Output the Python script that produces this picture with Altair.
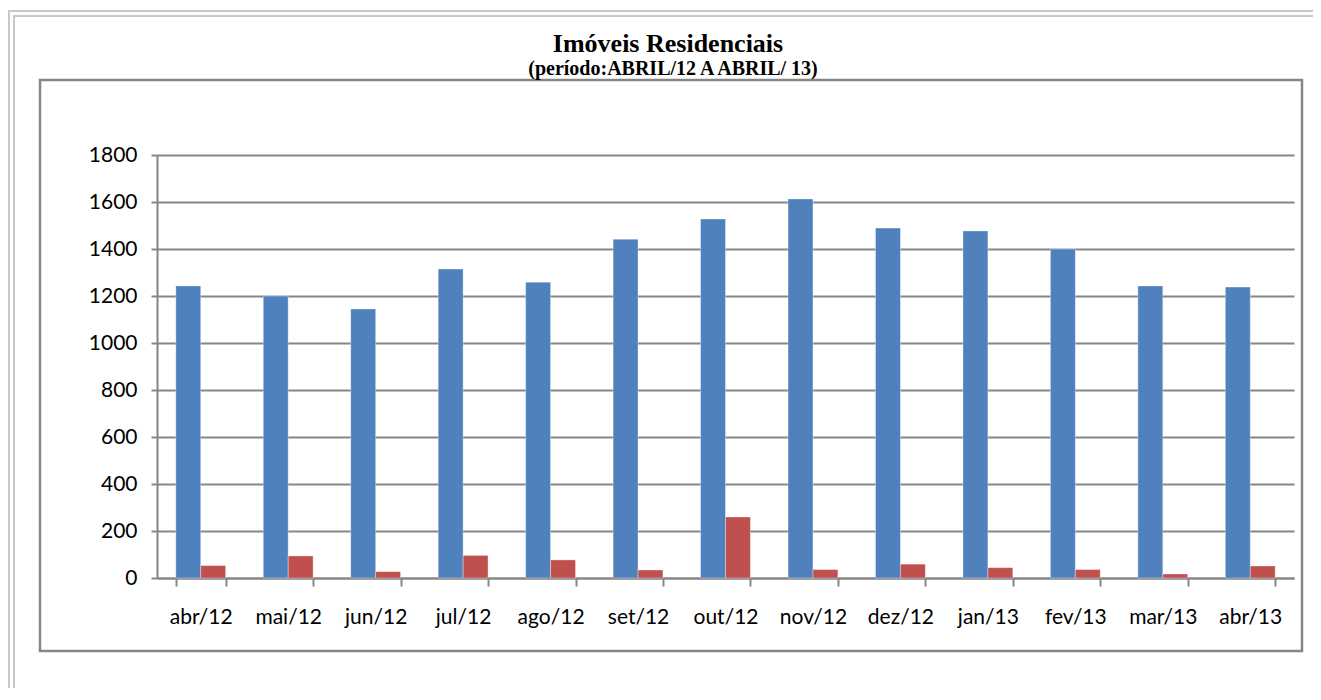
import altair as alt
import pandas as pd

months = ["abr/12", "mai/12", "jun/12", "jul/12", "ago/12", "set/12", "out/12",
          "nov/12", "dez/12", "jan/13", "fev/13", "mar/13", "abr/13"]
serie1 = [1243, 1200, 1145, 1315, 1259, 1442, 1528, 1613, 1489, 1477, 1400, 1243, 1238]
serie2 = [53, 94, 27, 96, 77, 34, 260, 36, 59, 44, 36, 17, 51]
series_names = ["Série1", "Série2"]
series_colors = ["#4F81BD", "#C0504D"]
y_ticks = [0, 200, 400, 600, 800, 1000, 1200, 1400, 1600, 1800]
title_text = "Imóveis Residenciais"
subtitle_text = "(período:ABRIL/12 A ABRIL/ 13)"

rows = []
for i, m in enumerate(months):
    rows.append({"mes": m, "serie": series_names[0], "valor": serie1[i]})
    rows.append({"mes": m, "serie": series_names[1], "valor": serie2[i]})
df = pd.DataFrame(rows)

W, H = 1137, 423
GRAY = "#868686"

bars = alt.Chart(df).mark_bar(stroke="#ffffff", strokeOpacity=0.35, strokeWidth=1).encode(
    x=alt.X("mes:N", sort=months,
            scale=alt.Scale(paddingInner=0.43, paddingOuter=0.215),
            axis=alt.Axis(title=None, labelAngle=0, tickBand="extent", tickSize=8,
                          tickColor=GRAY, tickWidth=2, domainColor=GRAY, domainWidth=2,
                          labelFont="Lato", labelFontSize=21, labelColor="#000000",
                          labelPadding=20, grid=False)),
    xOffset=alt.XOffset("serie:N", sort=series_names),
    y=alt.Y("valor:Q",
            scale=alt.Scale(domain=[0, 1800], nice=False),
            axis=alt.Axis(title=None, values=y_ticks, format="d", tickSize=6,
                          tickColor=GRAY, tickWidth=2, domainColor=GRAY, domainWidth=2,
                          gridColor=GRAY, gridWidth=2, grid=True,
                          labelFont="Lato", labelFontSize=21, labelColor="#000000",
                          labelPadding=14)),
    color=alt.Color("serie:N", sort=series_names,
                    scale=alt.Scale(domain=series_names, range=series_colors),
                    legend=None),
)

inner_frame = alt.Chart().mark_rect(fill=None, stroke=GRAY, strokeWidth=2.5).encode(
    x=alt.value(-117), x2=alt.value(1145), y=alt.value(-75), y2=alt.value(496))
outer1 = alt.Chart().mark_rect(fill=None, stroke="#C8C8C8", strokeWidth=2).encode(
    x=alt.value(-148), x2=alt.value(1300), y=alt.value(-144), y2=alt.value(700))
outer2 = alt.Chart().mark_rect(fill=None, stroke="#C8C8C8", strokeWidth=2).encode(
    x=alt.value(-143), x2=alt.value(1300), y=alt.value(-139), y2=alt.value(700))

title = alt.Chart().mark_text(font="Liberation Serif", fontSize=26, fontWeight="bold",
                              color="#000000", align="center", baseline="alphabetic").encode(
    text=alt.datum(title_text), x=alt.value(511), y=alt.value(-103))
subtitle = alt.Chart().mark_text(font="Liberation Serif", fontSize=20, fontWeight="bold",
                                 color="#000000", align="center", baseline="alphabetic").encode(
    text=alt.datum(subtitle_text), x=alt.value(516), y=alt.value(-80))

chart = alt.layer(outer1, outer2, inner_frame, bars, title, subtitle).properties(
    width=W, height=H,
    autosize=alt.AutoSizeParams(type="none"),
    padding={"left": 149, "top": 147, "right": 19, "bottom": 110},
).configure_view(stroke=None)

chart.save("out.html", embed_options={"renderer": "svg", "actions": False})
